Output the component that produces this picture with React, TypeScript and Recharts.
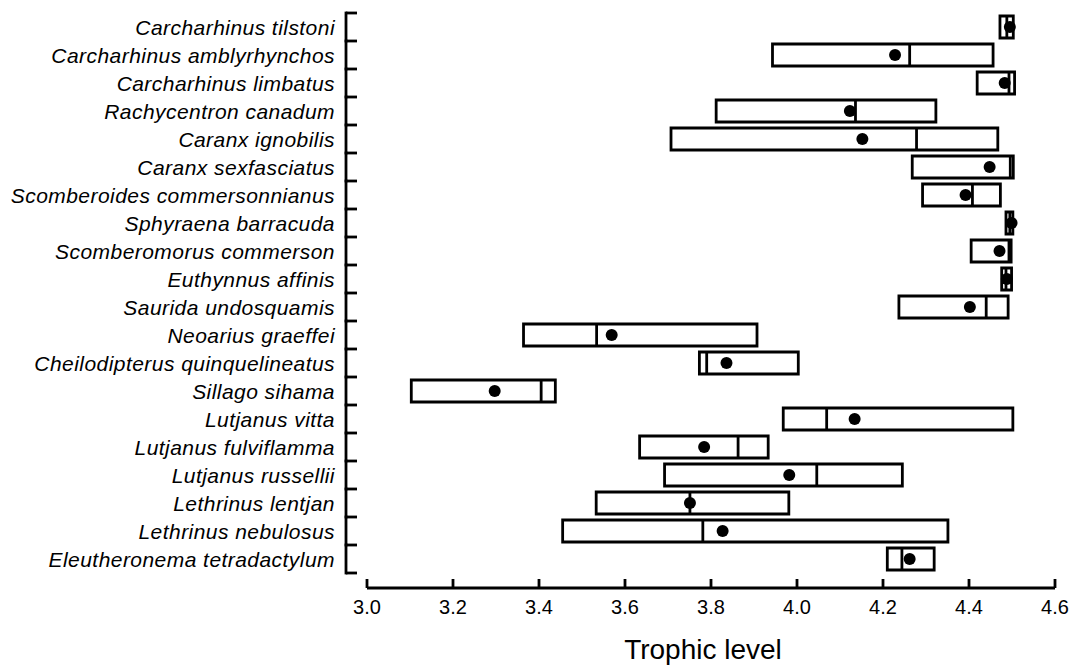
import { ComposedChart, Bar, Scatter, XAxis, YAxis } from 'recharts';

const species = [
  'Carcharhinus tilstoni',
  'Carcharhinus amblyrhynchos',
  'Carcharhinus limbatus',
  'Rachycentron canadum',
  'Caranx ignobilis',
  'Caranx sexfasciatus',
  'Scomberoides commersonnianus',
  'Sphyraena barracuda',
  'Scomberomorus commerson',
  'Euthynnus affinis',
  'Saurida undosquamis',
  'Neoarius graeffei',
  'Cheilodipterus quinquelineatus',
  'Sillago sihama',
  'Lutjanus vitta',
  'Lutjanus fulviflamma',
  'Lutjanus russellii',
  'Lethrinus lentjan',
  'Lethrinus nebulosus',
  'Eleutheronema tetradactylum',
];

const lowValues = [
  4.472, 3.943, 4.419, 3.812, 3.707, 4.268, 4.292, 4.486, 4.405, 4.476,
  4.237, 3.364, 3.773, 3.103, 3.968, 3.634, 3.692, 3.533, 3.455, 4.21,
];
const medianValues = [
  4.488, 4.262, 4.493, 4.136, 4.278, 4.496, 4.408, 4.495, 4.493, 4.486,
  4.44, 3.534, 3.79, 3.405, 4.069, 3.863, 4.046, 3.751, 3.781, 4.244,
];
const highValues = [
  4.503, 4.456, 4.506, 4.323, 4.467, 4.503, 4.473, 4.502, 4.498, 4.499,
  4.491, 3.907, 4.003, 3.438, 4.502, 3.933, 4.245, 3.981, 4.351, 4.319,
];
const meanValues = [
  4.495, 4.228, 4.483, 4.123, 4.152, 4.448, 4.392, 4.499, 4.471, 4.488,
  4.402, 3.569, 3.836, 3.297, 4.134, 3.784, 3.982, 3.751, 3.827, 4.262,
];

const xTicks = [3.0, 3.2, 3.4, 3.6, 3.8, 4.0, 4.2, 4.4, 4.6];

const data = species.map((name, i) => ({
  name,
  low: lowValues[i],
  median: medianValues[i],
  high: highValues[i],
  mean: meanValues[i],
}));

const FONT = '"Liberation Sans", Arial, Helvetica, sans-serif';
const LINE = 2.8;

// category ticks: label + the bracket-style axis with ticks between rows
function SpeciesTick(props: any) {
  const { x, y, payload, index } = props;
  const half = payload && payload.offset ? payload.offset : 14;
  const ax = x - 21;
  const last = index === species.length - 1;
  return (
    <g>
      <line x1={ax} x2={ax} y1={y - half} y2={y + half} stroke="#000" strokeWidth={LINE} strokeLinecap="square" />
      <line x1={ax} x2={ax + 11} y1={y - half} y2={y - half} stroke="#000" strokeWidth={LINE} />
      {last && <line x1={ax} x2={ax + 11} y1={y + half} y2={y + half} stroke="#000" strokeWidth={LINE} />}
      <text
        x={ax - 11}
        y={y}
        dy="0.36em"
        textAnchor="end"
        fontFamily={FONT}
        fontStyle="italic"
        fontSize={21}
        letterSpacing={0.45}
        fill="#000"
      >
        {payload.value}
      </text>
    </g>
  );
}

// x ticks point up into the plot
function LevelTick(props: any) {
  const { x, y, payload } = props;
  return (
    <g>
      <line x1={x} x2={x} y1={y} y2={y - 9} stroke="#000" strokeWidth={LINE} />
      <text x={x} y={y + 26} textAnchor="middle" fontFamily={FONT} fontSize={20} fill="#000">
        {Number(payload.value).toFixed(1)}
      </text>
    </g>
  );
}

function AxisTitle(props: any) {
  const { viewBox } = props;
  return (
    <text
      x={viewBox.x + viewBox.width / 2 - 8}
      y={viewBox.y + 71}
      textAnchor="middle"
      fontFamily={FONT}
      fontSize={28}
      fill="#000"
    >
      Trophic level
    </text>
  );
}

function MedianShape(props: any) {
  const { cx, cy } = props;
  return <line x1={cx} x2={cx} y1={cy - 11} y2={cy + 11} stroke="#000" strokeWidth={LINE} />;
}

function MeanShape(props: any) {
  const { cx, cy } = props;
  return <circle cx={cx} cy={cy} r={6} fill="#000" />;
}

export default function App() {
  return (
    <div style={{ position: 'absolute', left: 0, top: 0, background: '#fff' }}>
      <ComposedChart
        width={1077}
        height={667}
        data={data}
        layout="vertical"
        margin={{ top: 13, right: 22, bottom: 0, left: 0 }}
      >
        <XAxis
          type="number"
          domain={[3.0, 4.6]}
          ticks={xTicks}
          interval={0}
          height={79}
          tickSize={0}
          tickMargin={0}
          tickLine={false}
          axisLine={{ stroke: '#000', strokeWidth: LINE }}
          tick={<LevelTick />}
          label={<AxisTitle />}
        />
        <YAxis
          type="category"
          dataKey="name"
          width={367}
          interval={0}
          tickSize={0}
          tickMargin={0}
          tickLine={false}
          axisLine={false}
          padding={{ top: 0, bottom: 15 }}
          tick={<SpeciesTick />}
        />
        <Bar
          dataKey={(d: any) => [d.low, d.high]}
          barSize={22}
          fill="#fff"
          stroke="#000"
          strokeWidth={LINE}
          isAnimationActive={false}
        />
        <Scatter dataKey="median" shape={<MedianShape />} isAnimationActive={false} />
        <Scatter dataKey="mean" shape={<MeanShape />} isAnimationActive={false} />
      </ComposedChart>
    </div>
  );
}
